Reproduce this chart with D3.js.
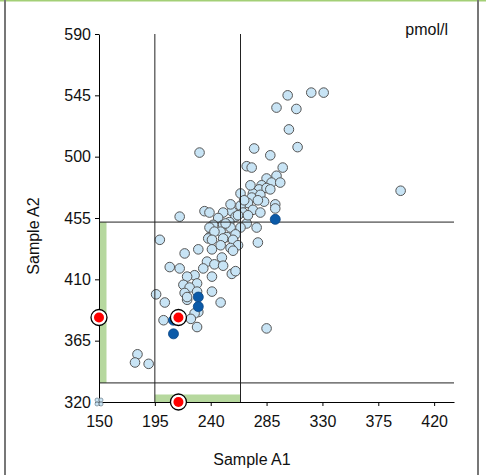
<!DOCTYPE html>
<html>
<head>
<meta charset="utf-8">
<script src="https://cdn.jsdelivr.net/npm/d3@7"></script>
<style>
  body { margin: 0; background: #fff; }
  svg { display: block; font-family: "Liberation Sans", Arial, sans-serif; }
</style>
</head>
<body>
<div id="scatter"></div>
<script>
// Sample A1 (x) / Sample A2 (y) values, pmol/l
const sampleA1 = [
    331, 321, 302, 293, 309, 303, 310, 275, 231, 288,
    269, 273, 298, 393, 293, 285, 289, 296, 281, 279,
    285, 288, 274, 264, 273, 280, 292, 292, 283, 278,
    270, 264, 257, 250, 235, 239, 215, 274, 280, 266,
    260, 255, 246, 242, 250, 269, 277, 248, 256, 264,
    253, 260, 239, 239, 243, 238, 241, 250, 258, 262,
    278, 199, 219, 230, 241, 248, 256, 258, 249, 237,
    243, 250, 234, 215, 207, 257, 260, 227, 221, 241,
    229, 218, 223, 219, 241, 229, 196, 203, 221, 248,
    230, 227, 202, 224, 229, 285, 181, 179, 190, 270,
    262, 252, 272, 267, 256, 221
]
const sampleA2 = [
    547, 547, 545, 536, 535, 520, 507, 506, 503, 501,
    493, 492, 492, 475, 486, 484, 481, 481, 479, 476,
    477, 476, 473, 473, 470, 472, 465, 462, 467, 468,
    466, 464, 460, 459, 460, 459, 456, 461, 459, 459,
    456, 452, 455, 450, 450, 451, 448, 445, 448, 448,
    441, 443, 441, 448, 445, 440, 439, 440, 439, 435,
    437, 439, 429, 432, 432, 435, 433, 431, 426, 423,
    421, 420, 418, 418, 419, 414, 416, 413, 412, 412,
    407, 406, 404, 400, 401, 401, 399, 393, 395, 393,
    386, 385, 380, 381, 375, 374, 355, 349, 348, 457,
    457, 451, 479, 468, 465, 397
]

// highlighted group (dark blue)
const groupA1 = [292, 230, 230, 210, 210]
const groupA2 = [454, 397, 390, 380, 370]

// selected sample (red)
const selectedA1 = 214
const selectedA2 = 382

// reference limits
const limitsA1 = [195, 264]
const limitsA2 = [334, 452]

const xTicks = [150, 195, 240, 285, 330, 375, 420]
const yTicks = [320, 365, 410, 455, 500, 545, 590]

function DrawScatter() {
    var W = 486, H = 475;

    var svg = d3.select("#scatter")
        .append("svg")
        .attr("width", W)
        .attr("height", H);

    // panel frame
    svg.append("rect").attr("x", 0).attr("y", 0).attr("width", W).attr("height", 1.5).attr("fill", "#a3cf76");
    svg.append("rect").attr("x", 4).attr("y", 0).attr("width", 2).attr("height", H).attr("fill", "#777");
    svg.append("rect").attr("x", 477).attr("y", 0).attr("width", 2).attr("height", H).attr("fill", "#777");

    var xScale = d3.scaleLinear().domain([150, 436]).range([99, 454]);
    var yScale = d3.scaleLinear().domain([320, 590]).range([402, 34]);

    // green limit bands on the axes
    svg.append("rect")
        .attr("x", xScale(150))
        .attr("y", yScale(limitsA2[1]))
        .attr("width", 7.5)
        .attr("height", yScale(limitsA2[0]) - yScale(limitsA2[1]))
        .attr("fill", "#b6d89e");
    svg.append("rect")
        .attr("x", xScale(limitsA1[0]))
        .attr("y", yScale(320) - 7.5)
        .attr("width", xScale(limitsA1[1]) - xScale(limitsA1[0]))
        .attr("height", 7.5)
        .attr("fill", "#b6d89e");

    // light points
    var pts = d3.range(sampleA1.length);
    svg.append("g").selectAll("circle")
        .data(pts)
        .enter()
        .append("circle")
        .attr("cx", function (i) { return xScale(sampleA1[i]) })
        .attr("cy", function (i) { return yScale(sampleA2[i]) })
        .attr("r", 4.8)
        .attr("fill", "#c8e4f5")
        .attr("stroke", "#555")
        .attr("stroke-width", 1);

    // reference lines
    limitsA1.forEach(function (v) {
        svg.append("line")
            .attr("x1", xScale(v)).attr("x2", xScale(v))
            .attr("y1", yScale(590)).attr("y2", yScale(320))
            .style("stroke", "#222");
    });
    limitsA2.forEach(function (v) {
        svg.append("line")
            .attr("x1", xScale(150)).attr("x2", xScale(436))
            .attr("y1", yScale(v)).attr("y2", yScale(v))
            .style("stroke", "#222");
    });

    // axes
    var xAxis = svg.append("g")
        .attr("transform", "translate(0," + yScale(320) + ")")
        .call(d3.axisBottom(xScale).tickValues(xTicks).tickSize(4).tickPadding(10).tickSizeOuter(0));
    var yAxis = svg.append("g")
        .attr("transform", "translate(" + xScale(150) + ",0)")
        .call(d3.axisLeft(yScale).tickValues(yTicks).tickSize(4).tickPadding(4).tickSizeOuter(0));
    [xAxis, yAxis].forEach(function (a) {
        a.selectAll("text").attr("font-size", "16px").attr("fill", "#111").attr("font-family", "Liberation Sans, Arial, sans-serif");
        a.selectAll("line, path").attr("stroke", "#000");
    });

    // dark blue group
    svg.append("g").selectAll("circle")
        .data(d3.range(groupA1.length))
        .enter()
        .append("circle")
        .attr("cx", function (i) { return xScale(groupA1[i]) })
        .attr("cy", function (i) { return yScale(groupA2[i]) })
        .attr("r", 5)
        .attr("fill", "#0b5aa8")
        .attr("stroke", "#0a4583")
        .attr("stroke-width", 0.8);

    // out-of-range marker at origin
    var ox = xScale(150), oy = yScale(320);
    [[-2, -2], [2, -2], [-2, 2], [2, 2]].forEach(function (o) {
        svg.append("circle")
            .attr("cx", ox + o[0]).attr("cy", oy + o[1]).attr("r", 2)
            .attr("fill", "#c8e4f5").attr("stroke", "#7a8a96").attr("stroke-width", 0.8);
    });

    // selected sample and its projections on both axes
    var marks = [
        [xScale(selectedA1), yScale(selectedA2)],
        [xScale(150), yScale(selectedA2)],
        [xScale(selectedA1), yScale(320)]
    ];
    marks.forEach(function (m) {
        svg.append("circle").attr("cx", m[0]).attr("cy", m[1]).attr("r", 8)
            .attr("fill", "#fff").attr("stroke", "#000").attr("stroke-width", 1.3);
        svg.append("circle").attr("cx", m[0]).attr("cy", m[1]).attr("r", 5)
            .attr("fill", "#ff0000");
    });

    // titles
    svg.append("text")
        .text("Sample A1")
        .attr("x", 252).attr("y", 465)
        .attr("text-anchor", "middle")
        .attr("font-size", "16px")
        .attr("fill", "#111");
    svg.append("text")
        .text("Sample A2")
        .attr("transform", "translate(39,236)rotate(-90)")
        .attr("text-anchor", "middle")
        .attr("font-size", "16px")
        .attr("fill", "#111");
    svg.append("text")
        .text("pmol/l")
        .attr("x", 448).attr("y", 35)
        .attr("text-anchor", "end")
        .attr("font-size", "16px")
        .attr("fill", "#111");
}

DrawScatter();
</script>
</body>
</html>
